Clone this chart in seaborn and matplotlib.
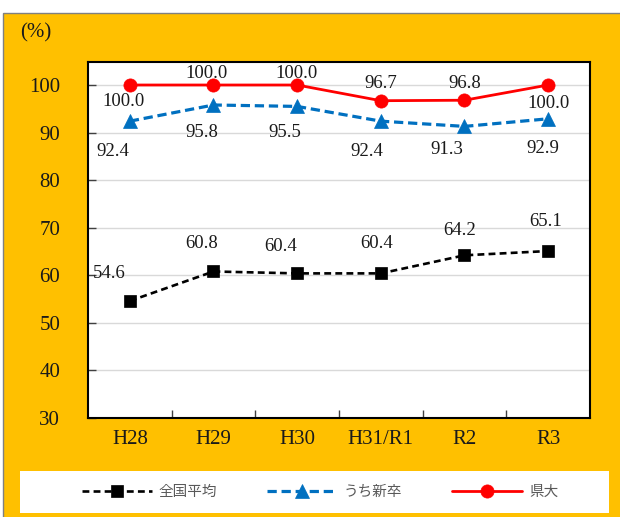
import matplotlib
matplotlib.use("Agg")
import matplotlib.pyplot as plt
from matplotlib.patches import Rectangle
import seaborn as sns
import pandas as pd

# Fiscal years and rates (%)
years = ["H28", "H29", "H30", "H31/R1", "R2", "R3"]
national_avg = [54.6, 60.8, 60.4, 60.4, 64.2, 65.1]
new_grads = [92.4, 95.8, 95.5, 92.4, 91.3, 92.9]
pref_univ = [100.0, 100.0, 100.0, 96.7, 96.8, 100.0]
series_names = ["全国平均", "うち新卒", "県大"]
y_ticks = [30, 40, 50, 60, 70, 80, 90, 100]

# value-label offsets (pixels) relative to each point
off_national = [(-21, 27), (-12, 28), (-17, 27), (-4, 30), (-5, 25), (-3, 30)]
off_new = [(-17, -30), (-12, -28), (-12, -26), (-14, -30), (-18, -23), (-5, -30)]
off_pref = [(-6, -16), (-7, 12), (-1, 12), (0, 17), (0, 17), (0, -18)]

sns.set_theme(style="white")
plt.rcParams["font.family"] = ["Liberation Serif", "Noto Sans CJK JP"]

W, H = 620, 517
fig = plt.figure(figsize=(W / 100, H / 100), dpi=100)
fig.patch.set_facecolor("white")

ORANGE = "#FFC000"
fig.add_artist(Rectangle((3 / W, -0.01), 1.0, 1 - 13 / H + 0.01,
                         transform=fig.transFigure, facecolor=ORANGE,
                         edgecolor="#808080", lw=1.0, zorder=0))
fig.add_artist(Rectangle((20 / W, 1 - 513 / H), 589 / W, 42 / H,
                         transform=fig.transFigure, facecolor="white",
                         edgecolor="none", zorder=1))

ax = fig.add_axes([88 / W, 1 - 418 / H, 502 / W, 356 / H])
ax.set_facecolor("white")

x = list(range(len(years)))
df = pd.DataFrame({"x": x, "national": national_avg, "new": new_grads, "pref": pref_univ})

styles = [
    ("national", "black", "s", 9, 1.9, (0, (2.6, 1.6))),
    ("new", "#0070C0", "^", 10.5, 2.3, (0, (2.9, 1.5))),
    ("pref", "#FF0000", "o", 9.5, 2.0, "-"),
]
for col, color, mk, ms, lw, ls in styles:
    sns.lineplot(data=df, x="x", y=col, ax=ax, color=color, marker=mk,
                 markersize=ms, linewidth=lw, linestyle=ls,
                 markeredgecolor=color, markeredgewidth=0.5, legend=False,
                 zorder=3)

for vals, offs in [(national_avg, off_national), (new_grads, off_new), (pref_univ, off_pref)]:
    for i, (v, (dx, dy)) in enumerate(zip(vals, offs)):
        ax.annotate(f"{v:.1f}", (i, v), xytext=(dx, dy), textcoords="offset pixels",
                    ha="center", va="center", fontsize=13.5, color="#1a1a1a",
                    family="Liberation Serif", zorder=4)

ax.set_xlim(-0.5, len(years) - 0.5)
ax.set_ylim(30, 30 + 356 / 47.57 * 10)
ax.set_yticks(y_ticks)
ax.set_xticks(x)
ax.set_xticklabels(years)
ax.set_xticks([i + 0.5 for i in x[:-1]], minor=True)
ax.set_xlabel("")
ax.set_ylabel("")

ax.yaxis.grid(True, color="#d9d9d9", lw=1.0, zorder=0)
ax.xaxis.grid(False)
ax.set_axisbelow(True)

ax.tick_params(axis="y", direction="in", length=6, width=1, color="#404040",
               pad=20, labelsize=15, labelcolor="#1a1a1a", left=True)
ax.tick_params(axis="x", which="major", length=0, pad=9, labelsize=15,
               labelcolor="#1a1a1a")
ax.tick_params(axis="x", which="minor", direction="in", length=6, width=1,
               color="#404040", bottom=True)

for sp in ax.spines.values():
    sp.set_visible(True)
    sp.set_color("black")
    sp.set_linewidth(1.5)

fig.text(36 / W, 1 - 33 / H, "(%)", ha="center", va="center", fontsize=15,
         color="#1a1a1a", family="Liberation Serif")

handles = ax.lines[:3]
leg = fig.legend(handles, series_names, loc="center",
                 bbox_to_anchor=(320 / W, 1 - 492 / H), ncol=3, frameon=False,
                 handlelength=4.8, handletextpad=0.45, columnspacing=3.45,
                 prop={"family": "Noto Sans CJK JP", "size": 10.5},
                 labelcolor="#595959")
leg.set_zorder(5)

fig.savefig("out.png", dpi=100)
